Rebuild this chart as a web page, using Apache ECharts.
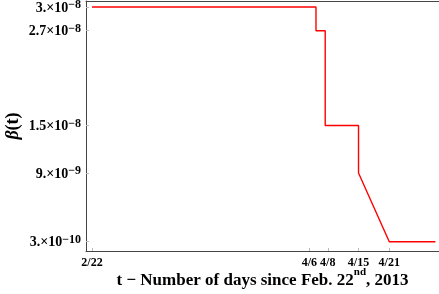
<!DOCTYPE html>
<html>
<head>
<meta charset="utf-8">
<script src="https://cdn.jsdelivr.net/npm/echarts@6/dist/echarts.min.js"></script>
<style>
  html, body { margin: 0; padding: 0; background: #fff; }
  #chart { width: 439px; height: 294px; }
</style>
</head>
<body>
<div id="chart"></div>
<script>
// days since 2/22 and the transmission rate at each corner of the curve
const days = [0, 43.7, 43.7, 45.5, 45.5, 52, 52, 58, 67];
const beta = [3e-8, 3e-8, 2.7e-8, 2.7e-8, 1.5e-8, 1.5e-8, 9e-9, 3e-10, 3e-10];

const xTickDays = [0, 42.4, 46, 52, 58];
const xTickLabels = ['2/22', '4/6', '4/8', '4/15', '4/21'];

const yTickValues = [3e-10, 9e-9, 1.5e-8, 2.7e-8, 3e-8];
const yTickMantissa = ['3.', '9.', '1.5', '2.7', '3.'];
const yTickExp = ['\u221210', '\u22129', '\u22128', '\u22128', '\u22128'];

const serif = 'Liberation Serif';
const axisColor = '#444';

const chart = echarts.init(document.getElementById('chart'));

chart.setOption({
  animation: false,
  grid: { left: 86, right: 0, top: 1, bottom: 43, containLabel: false, outerBoundsMode: 'none' },
  xAxis: [
    {
      type: 'value',
      min: -1.17,
      max: 67.7,
      name: '{t|t \u2212 Number of days since Feb. 22}{s|nd}{t|, 2013}',
      nameLocation: 'middle',
      nameGap: 16,
      nameMoveOverlap: false,
      nameTextStyle: {
        rich: {
          t: { fontFamily: serif, fontWeight: 'bold', fontSize: 17, color: '#000', lineHeight: 22, verticalAlign: 'bottom' },
          s: { fontFamily: serif, fontWeight: 'bold', fontSize: 11, color: '#000', lineHeight: 11, verticalAlign: 'top' }
        }
      },
      axisLine: { show: true, onZero: false, lineStyle: { color: axisColor, width: 1 } },
      axisTick: { show: true, inside: true, length: 3, customValues: xTickDays, lineStyle: { color: '#bbb' } },
      axisLabel: {
        customValues: xTickDays,
        margin: 6,
        fontFamily: serif,
        fontWeight: 'bold',
        fontSize: 12,
        color: '#000',
        formatter: v => xTickLabels[xTickDays.indexOf(v)]
      },
      splitLine: { show: false }
    },
    {
      type: 'value',
      position: 'top',
      min: -1.17,
      max: 67.7,
      axisLine: { show: true, onZero: false, lineStyle: { color: axisColor, width: 1 } },
      axisTick: { show: false },
      axisLabel: { show: false },
      splitLine: { show: false }
    }
  ],
  yAxis: {
    type: 'value',
    min: -8.77e-10,
    max: 3.0759e-8,
    name: '{i|\u03b2}{t|(t)}',
    nameLocation: 'middle',
    nameGap: 64,
    nameMoveOverlap: false,
    nameRotate: 90,
    nameTextStyle: {
      rich: {
        i: { fontFamily: serif, fontStyle: 'italic', fontWeight: 'bold', fontSize: 18, color: '#000' },
        t: { fontFamily: serif, fontWeight: 'bold', fontSize: 18, color: '#000' }
      }
    },
    axisLine: { show: true, onZero: false, lineStyle: { color: axisColor, width: 1 } },
    axisTick: { show: true, inside: true, length: 3, customValues: yTickValues, lineStyle: { color: '#bbb' } },
    axisLabel: {
      customValues: yTickValues,
      margin: 5,
      formatter: v => {
        const i = yTickValues.indexOf(v);
        return '{b|' + yTickMantissa[i] + '\u00d710}{s|' + yTickExp[i] + '}';
      },
      rich: {
        b: { fontFamily: serif, fontWeight: 'bold', fontSize: 14, color: '#000', lineHeight: 16, verticalAlign: 'bottom' },
        s: { fontFamily: serif, fontWeight: 'bold', fontSize: 12, color: '#000', lineHeight: 12, verticalAlign: 'top' }
      }
    },
    splitLine: { show: false }
  },
  series: [
    {
      type: 'line',
      data: days.map((d, i) => [d, beta[i]]),
      symbol: 'none',
      lineStyle: { color: '#ff0000', width: 1.4 },
      itemStyle: { color: '#ff0000' }
    }
  ]
});
</script>
</body>
</html>
